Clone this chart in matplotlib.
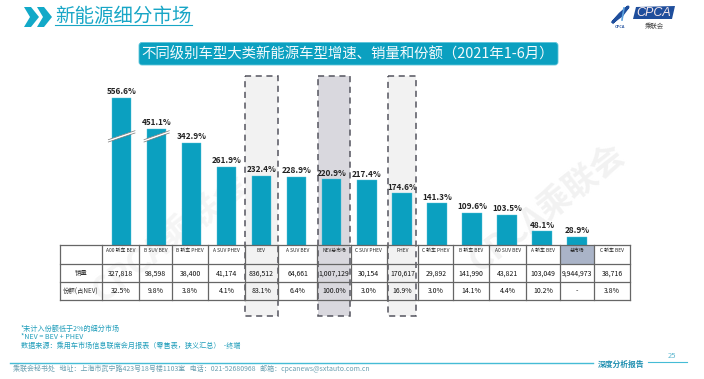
import matplotlib
matplotlib.use('Agg')
import matplotlib.pyplot as plt
from matplotlib.patches import FancyBboxPatch, Polygon, Rectangle

plt.rcParams['font.family'] = ['Noto Sans CJK SC', 'DejaVu Sans']

# datos de la grafica
categorias = ['A00 轿车 BEV', 'B SUV BEV', 'B 轿车 PHEV', 'A SUV PHEV', 'BEV', 'A SUV BEV', 'NEV总市场',
              'C SUV PHEV', 'PHEV', 'C 轿车 PHEV', 'B 轿车 BEV', 'A0 SUV BEV', 'A 轿车 BEV', '总市场', 'C 轿车 BEV']
crecimiento = [556.6, 451.1, 342.9, 261.9, 232.4, 228.9, 220.9, 217.4, 174.6, 141.3, 109.6, 103.5, 48.1, 28.9, None]
# las dos primeras barras estan cortadas en el original, se dibujan mas bajas
altura_dibujada = [494, 389, 342.9, 261.9, 232.4, 228.9, 220.9, 217.4, 174.6, 141.3, 109.6, 103.5, 48.1, 28.9, 0]
ventas = ['327,818', '98,598', '38,400', '41,174', '836,512', '64,661', '1,007,129', '30,154',
          '170,617', '29,892', '141,990', '43,821', '103,049', '9,944,973', '38,716']
cuota = ['32.5%', '9.8%', '3.8%', '4.1%', '83.1%', '6.4%', '100.0%', '3.0%', '16.9%', '3.0%',
         '14.1%', '4.4%', '10.2%', '-', '3.8%']
filas = ['销量', '份额(占NEV)']

AZUL = '#0ba0c0'
W, H = 704, 379

fig = plt.figure(figsize=(W / 100, H / 100), dpi=100)

# fondo y adornos en coordenadas de pixel
fondo = fig.add_axes([0, 0, 1, 1], zorder=0)
fondo.set_xlim(0, W)
fondo.set_ylim(H, 0)
fondo.axis('off')

frente = fig.add_axes([0, 0, 1, 1], zorder=2)
frente.set_xlim(0, W)
frente.set_ylim(H, 0)
frente.axis('off')
frente.patch.set_alpha(0)

# marca de agua
fondo.text(170, 238, 'CPCA乘联会', fontsize=24, color='#f5f5f5', rotation=38, ha='center', va='center', weight='bold')
fondo.text(547, 208, 'CPCA乘联会', fontsize=24, color='#f2f2f2', rotation=38, ha='center', va='center', weight='bold')

# cabecera
for x0 in [24, 37]:
    fondo.add_patch(Polygon([(x0, 7), (x0 + 7, 7), (x0 + 15, 17), (x0 + 7, 27), (x0, 27), (x0 + 6, 17)], color='#12a9c8', lw=0))
fondo.text(55, 16, '新能源细分市场', fontsize=14, color='#18a6c6', va='center', ha='left')
fondo.plot([55, 192], [25, 25], color='#18a6c6', lw=0.8)

# logo
fondo.add_patch(Polygon([(636, 7), (675, 6), (672, 19), (633, 19)], color='#1f4e9c', lw=0))
fondo.text(653.5, 12.8, 'CPCA', fontsize=9, color='#f4e6ea', style='italic', ha='center', va='center', family='Liberation Sans')
fondo.text(654, 25.5, '乘联会', fontsize=4.6, color='#444444', ha='center', va='center')
fondo.plot([613, 620, 628, 622, 614], [22, 14, 7, 15, 21], color='#1f4e9c', lw=2.2)
fondo.plot([624, 622], [8, 20], color='#5aa0dc', lw=1.2)
fondo.text(620, 26.5, 'CPCA', fontsize=2.8, color='#1f4e9c', style='italic', ha='center', va='center', weight='bold')

# titulo
fondo.add_patch(FancyBboxPatch((139, 42.5), 419, 22.5, boxstyle='round,pad=0,rounding_size=3', fc=AZUL, ec='#5cc4da', lw=0.6))
fondo.text(348, 54, '不同级别车型大类新能源车型增速、销量和份额（2021年1-6月）', fontsize=10.4, color='#f4fafc', ha='center', va='center')

# recuadros punteados
for x0, x1, c in [(245, 277.7, '#f2f2f2'), (318.3, 350, '#d9d8de'), (387.7, 415.7, '#f2f2f2')]:
    fondo.add_patch(Rectangle((x0, 75.5), x1 - x0, 240, fc=c, ec='none'))
    frente.add_patch(Rectangle((x0, 75.5), x1 - x0, 240, fc='none', ec='#55555f', lw=1.1, ls=(0, (4, 3))))

# barras
ax = fig.add_axes([103.8 / W, 1 - 245.7 / H, 526 / W, 170.7 / H], zorder=1)
ax.patch.set_alpha(0)
ax.axis('off')
ax.set_xlim(-0.5, 14.5)
ax.set_ylim(0, 569)
xs = list(range(len(categorias)))
ax.bar(xs, altura_dibujada, width=0.556, color=AZUL, edgecolor='#55c3da', linewidth=0.3)
for x, a, v in zip(xs, altura_dibujada, crecimiento):
    if v is not None:
        ax.annotate(f'{v}%', (x, a), xytext=(0, 1.2), textcoords='offset points', ha='center', va='bottom',
                    fontsize=5.9, weight='bold', color='#222222', annotation_clip=False)

# cortes de las dos primeras barras
for x0, x1 in [(108.3, 135), (144, 169.3)]:
    frente.add_patch(Polygon([(x0, 139.5), (x1, 130.5), (x1, 133), (x0, 142)], color='white', lw=0))
    frente.plot([x0, x1], [139.7, 130.7], color='#777777', lw=0.5)
    frente.plot([x0, x1], [142, 133], color='#777777', lw=0.5)

# tabla
col_x = [60, 102.3, 139.3, 172.3, 208.3, 244.5, 278, 317.3, 350.7, 386.7, 418.3, 453.3, 489.3, 526, 560, 594, 630]
fil_y = [245.3, 264, 282.3, 300.3]
frente.add_patch(Rectangle((col_x[14], fil_y[0]), col_x[15] - col_x[14], fil_y[1] - fil_y[0], fc='#aab4c8', ec='none', zorder=0))
for x in col_x:
    frente.plot([x, x], [fil_y[0], fil_y[-1]], color='#666666', lw=0.9)
for y in fil_y:
    frente.plot([col_x[0], col_x[-1]], [y, y], color='#666666', lw=0.9)

frente.text(81, 273.2, filas[0], fontsize=4.6, ha='center', va='center', color='#333333')
frente.text(81, 291.3, filas[1], fontsize=4.6, ha='center', va='center', color='#333333')
for i in range(len(categorias)):
    cx = (col_x[i + 1] + col_x[i + 2]) / 2
    frente.text(cx, 250, categorias[i], fontsize=3.5, ha='center', va='center', color='#222222')
    frente.text(cx, 273.2, ventas[i], fontsize=5, ha='center', va='center', color='#111111')
    frente.text(cx, 291.3, cuota[i], fontsize=5, ha='center', va='center', color='#111111')

# notas
COLOR_NOTA = '#1f9dba'
frente.text(21, 328.5, '*未计入份额低于2%的细分市场', fontsize=5.1, color=COLOR_NOTA, va='center')
frente.text(21, 337, '*NEV = BEV + PHEV', fontsize=5.1, color=COLOR_NOTA, va='center')
frente.text(21, 345.5, '数据来源：乘用车市场信息联席会月报表（零售表，狭义汇总）  -终端', fontsize=5.1, color=COLOR_NOTA, va='center')

# pie de pagina
frente.plot([10, 593], [362.7, 362.7], color='#45bcd6', lw=1)
frente.plot([648, 687], [362, 362], color='#45bcd6', lw=0.8)
frente.text(621.5, 364, '深度分析报告', fontsize=5.6, color='#1f8fb0', ha='center', va='center', style='italic', weight='bold')
frente.text(672, 356, '25', fontsize=5.5, color='#5fb8d0', ha='center', va='center')
frente.text(13, 368.5, '乘联会秘书处   地址：上海市武宁路423号18号楼1103室   电话：021-52680968   邮箱：cpcanews@sxtauto.com.cn',
            fontsize=5, color='#6a9fb0', va='center')

fig.savefig('out.png', dpi=100)
